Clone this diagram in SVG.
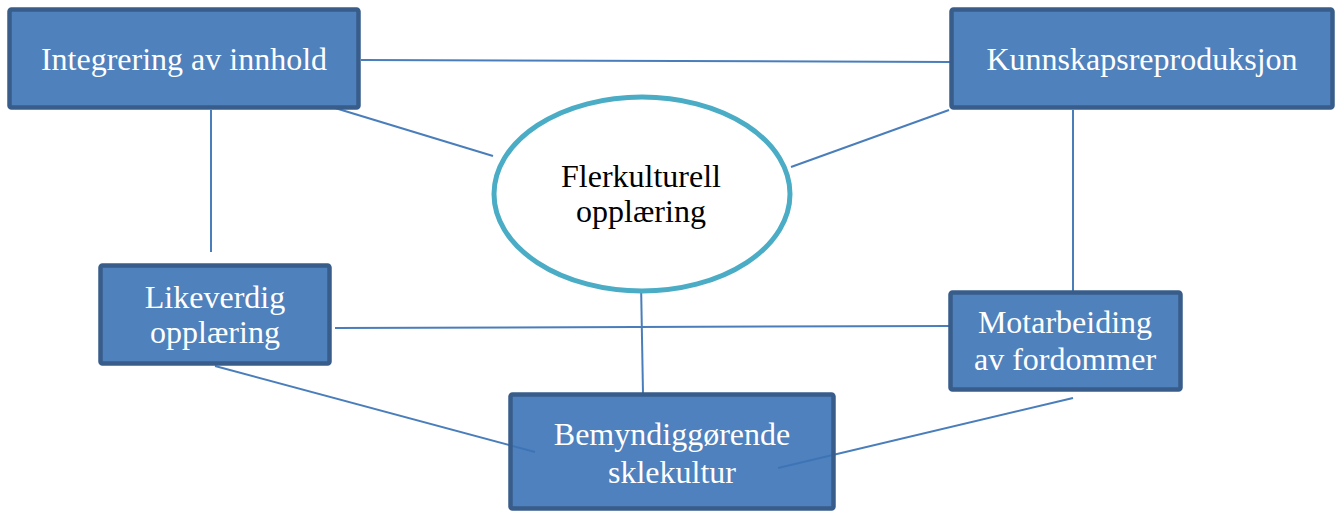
<svg xmlns="http://www.w3.org/2000/svg" width="1341" height="512" viewBox="0 0 1341 512">
<style>
.box{fill:#4f81bd;stroke:#385d8a;stroke-width:4.5}
.lbl{font-family:"Liberation Serif","Times New Roman",serif;font-size:32px;fill:#ffffff;text-anchor:middle}
.dark{fill:#000000}
.conn line{stroke:#4a7ebb;stroke-width:2}
</style>
<rect width="1341" height="512" fill="#ffffff"/>
<g id="connectors" class="conn">
<line x1="361" y1="60" x2="950" y2="62"/>
<line x1="335" y1="108" x2="493" y2="156"/>
<line x1="211" y1="110" x2="211" y2="252"/>
<line x1="949" y1="110" x2="791" y2="167"/>
<line x1="1073" y1="110" x2="1073" y2="292"/>
<line x1="335" y1="328" x2="951" y2="326"/>
<line x1="641" y1="282" x2="643" y2="394"/>
<line x1="215" y1="366" x2="535" y2="452"/>
<line x1="1073" y1="398" x2="778" y2="468"/>
</g>
<g id="integrering">
<rect class="box" x="9.5" y="9.5" width="349" height="98" rx="2"/>
<text class="lbl" x="184" y="70">Integrering av innhold</text>
</g>
<g id="kunnskap">
<rect class="box" x="951.5" y="9.5" width="381" height="98" rx="2"/>
<text class="lbl" x="1142" y="70">Kunnskapsreproduksjon</text>
</g>
<g id="flerkulturell">
<ellipse cx="642" cy="194" rx="148" ry="97" fill="#ffffff" stroke="#4bacc6" stroke-width="5"/>
<text class="lbl dark" x="641" y="187">Flerkulturell</text>
<text class="lbl dark" x="641" y="222">opplæring</text>
</g>
<g id="likeverdig">
<rect class="box" x="100.5" y="265.5" width="229" height="98" rx="2"/>
<text class="lbl" x="215" y="308">Likeverdig</text>
<text class="lbl" x="215" y="343">opplæring</text>
</g>
<g id="motarbeiding">
<rect class="box" x="950.5" y="292.5" width="230" height="97" rx="2"/>
<text class="lbl" x="1065" y="333">Motarbeiding</text>
<text class="lbl" x="1065" y="370">av fordommer</text>
</g>
<g id="bemyndig">
<rect class="box" x="510.5" y="394.5" width="323" height="114" rx="2" style="fill:#3b73b6;fill-opacity:0.9"/>
<text class="lbl" x="672" y="445">Bemyndiggørende</text>
<text class="lbl" x="672" y="483">sklekultur</text>
</g>
</svg>
